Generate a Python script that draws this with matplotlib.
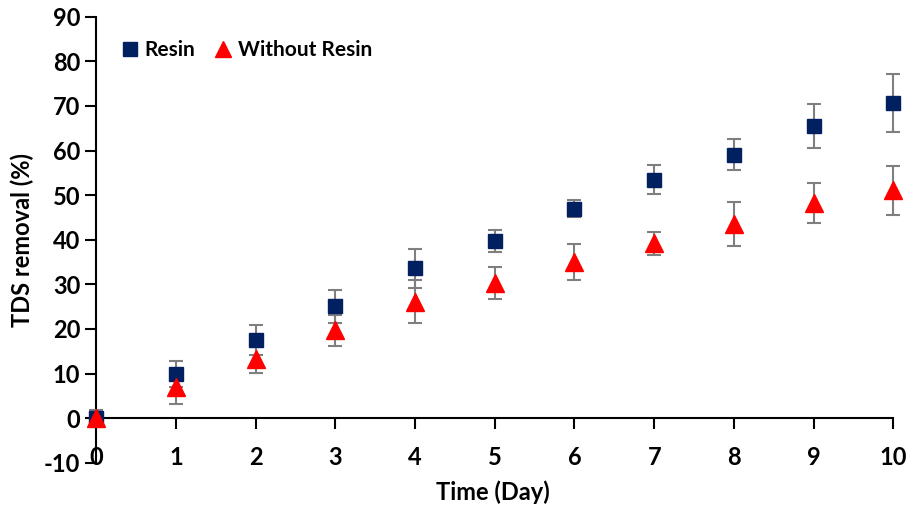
import matplotlib.pyplot as plt
from matplotlib.lines import Line2D

days = [0, 1, 2, 3, 4, 5, 6, 7, 8, 9, 10]
resin = [0.0, 10.0, 17.5, 25.1, 33.6, 39.7, 47.0, 53.5, 59.1, 65.5, 70.6]
resin_err = [1.8, 2.9, 3.4, 3.7, 4.3, 2.5, 2.0, 3.2, 3.5, 5.0, 6.5]
no_resin = [0.0, 7.0, 13.3, 19.7, 26.1, 30.3, 35.0, 39.2, 43.5, 48.2, 51.1]
no_resin_err = [0.0, 3.9, 3.2, 3.5, 4.8, 3.5, 4.0, 2.6, 5.0, 4.5, 5.5]

plt.rcParams['font.family'] = ['Lato', 'DejaVu Sans']
plt.rcParams['font.weight'] = 'bold'
plt.rcParams['axes.unicode_minus'] = False

fig = plt.figure(figsize=(9.07, 5.08), dpi=100)
ax = fig.add_axes([0.106, 0.089, 0.879, 0.878])

ax.errorbar(days, resin, yerr=resin_err, fmt='s', color='#002060', ms=10,
            ecolor='#7f7f7f', elinewidth=1.5, capsize=5, capthick=1.5, zorder=3, clip_on=False)
ax.errorbar(days, no_resin, yerr=no_resin_err, fmt='^', color='#ff0000', ms=13,
            ecolor='#7f7f7f', elinewidth=1.5, capsize=5, capthick=1.5, zorder=3, clip_on=False)

ax.set_xlim(0, 10)
ax.set_ylim(-10, 90)
ax.set_xticks(range(0, 11))
ax.set_yticks(range(-10, 91, 10))
ax.spines['top'].set_visible(False)
ax.spines['right'].set_visible(False)
ax.spines['bottom'].set_position(('data', 0))
for s in ['left', 'bottom']:
    ax.spines[s].set_linewidth(1.5)
ax.tick_params(axis='both', direction='out', length=8, width=1.5, labelsize=17)
ax.tick_params(axis='x', pad=12)
ax.set_xlabel('Time (Day)', fontsize=17, fontweight='bold', va='center')
ax.set_ylabel('TDS removal (%)', fontsize=17, fontweight='bold', va='center')
ax.yaxis.set_label_coords(-0.093, 0.5)
ax.xaxis.set_label_coords(0.497, -0.065)

handles = [Line2D([], [], ls='none', marker='s', color='#002060', ms=10),
           Line2D([], [], ls='none', marker='^', color='#ff0000', ms=11)]
ax.legend(handles, ['Resin', 'Without Resin'], loc='upper left', bbox_to_anchor=(0.003, 0.99),
          ncol=2, frameon=False, fontsize=15, handletextpad=0.1, columnspacing=0.75,
          handlelength=1.2)

fig.savefig('out.png', dpi=100)
